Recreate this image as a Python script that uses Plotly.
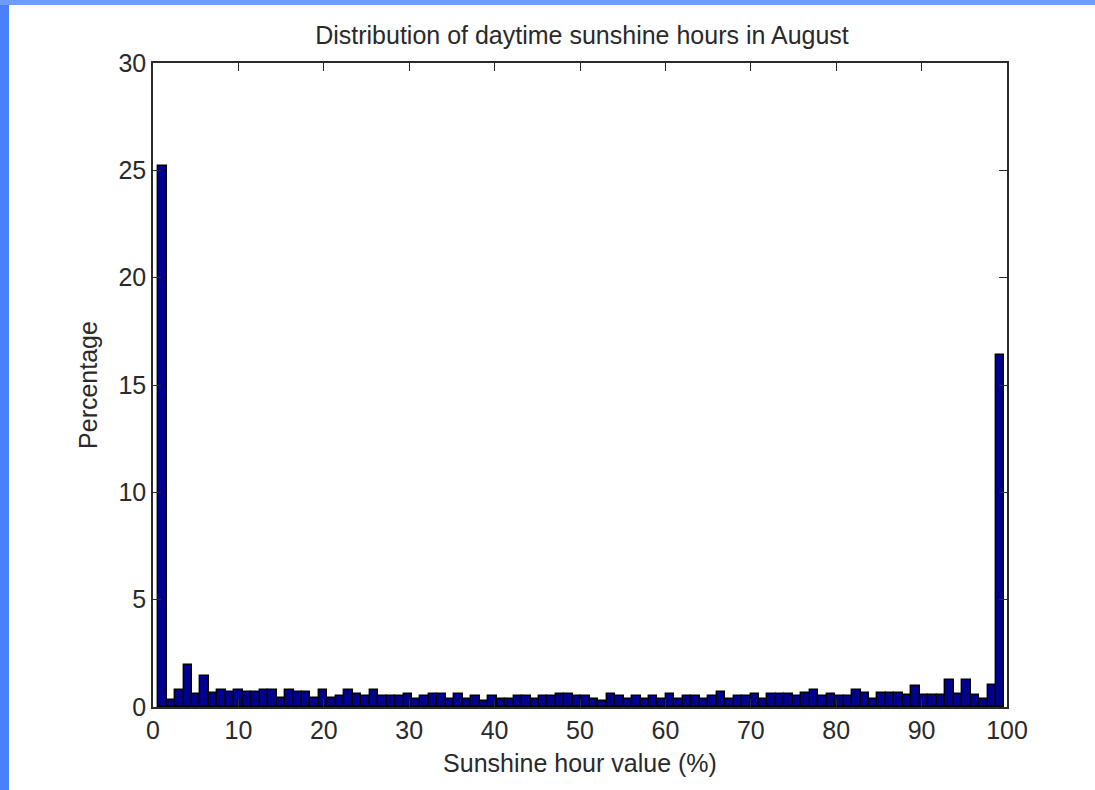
import numpy as np
import plotly.graph_objects as go

# Histogram of daytime sunshine hour value (%), August: 100 bins
bin_low = 0.6
bin_high = 99.7
n_bins = 100
percentages = [
    25.2, 0.33, 0.8, 1.95, 0.59, 1.43, 0.65, 0.8, 0.7, 0.8,
    0.7, 0.7, 0.8, 0.8, 0.4, 0.8, 0.68, 0.68, 0.4, 0.8,
    0.4, 0.5, 0.8, 0.6, 0.5, 0.81, 0.5, 0.5, 0.5, 0.62,
    0.39, 0.5, 0.62, 0.62, 0.39, 0.62, 0.39, 0.5, 0.28, 0.5,
    0.39, 0.39, 0.5, 0.5, 0.39, 0.5, 0.5, 0.62, 0.62, 0.5,
    0.5, 0.39, 0.3, 0.62, 0.5, 0.39, 0.5, 0.39, 0.5, 0.39,
    0.62, 0.39, 0.5, 0.5, 0.39, 0.5, 0.71, 0.39, 0.5, 0.5,
    0.62, 0.39, 0.62, 0.62, 0.62, 0.5, 0.65, 0.81, 0.5, 0.62,
    0.5, 0.5, 0.81, 0.65, 0.39, 0.65, 0.65, 0.65, 0.55, 0.96,
    0.55, 0.55, 0.55, 1.24, 0.6, 1.24, 0.55, 0.39, 1.02, 16.4,
]
x_ticks = [0, 10, 20, 30, 40, 50, 60, 70, 80, 90, 100]
y_ticks = [0, 5, 10, 15, 20, 25, 30]

edges = np.linspace(bin_low, bin_high, n_bins + 1)
centers = (edges[:-1] + edges[1:]) / 2
width = edges[1] - edges[0]

W, H = 1095, 790
L, R, T, B = 153, 88, 63, 83
pw = W - L - R
ph = H - T - B

fig = go.Figure()
fig.add_trace(go.Bar(
    x=centers, y=percentages, width=width,
    marker=dict(color="#00008f", line=dict(color="#000000", width=1.4)),
    hoverinfo="x+y",
))

font = "Liberation Sans, Arial, sans-serif"
fs = 25
tc = "#2a2a2a"

def px_x(p):
    return (p - L) / pw

def px_y(p):
    return (H - B - p) / ph

shapes = [
    dict(type="rect", xref="paper", yref="paper",
         x0=px_x(-2), x1=px_x(9), y0=px_y(H + 2), y1=px_y(-2),
         fillcolor="#4a80fb", line=dict(width=0), layer="above"),
    dict(type="rect", xref="paper", yref="paper",
         x0=px_x(-2), x1=px_x(W + 2), y0=px_y(5), y1=px_y(-2),
         fillcolor="#6c9cff", line=dict(width=0), layer="above"),
]

fig.update_layout(
    width=W, height=H,
    margin=dict(l=L, r=R, t=T, b=B, autoexpand=False),
    paper_bgcolor="white", plot_bgcolor="white",
    bargap=0, showlegend=False,
    font=dict(family=font, size=fs, color=tc),
    title=dict(text="Distribution of daytime sunshine hours in August",
               x=(L + pw / 2 + 2) / W, xanchor="center",
               y=1 - 35 / H, yanchor="middle",
               font=dict(family=font, size=fs, color=tc)),
    shapes=shapes,
)
fig.update_xaxes(
    range=[0, 100], tickvals=x_ticks, ticks="inside", ticklen=8,
    tickwidth=1.3, tickcolor=tc,
    showline=True, linecolor=tc, linewidth=1.6, mirror="ticks",
    showgrid=False, zeroline=False,
    tickfont=dict(family=font, size=fs, color=tc),
    title=dict(text="Sunshine hour value (%)", standoff=12,
               font=dict(family=font, size=fs, color=tc)),
)
fig.update_yaxes(
    range=[0, 30], tickvals=y_ticks, ticks="inside", ticklen=8,
    tickwidth=1.3, tickcolor=tc,
    showline=True, linecolor=tc, linewidth=1.6, mirror="ticks",
    showgrid=False, zeroline=False,
    tickfont=dict(family=font, size=fs, color=tc),
    title=dict(text="Percentage", standoff=14,
               font=dict(family=font, size=fs, color=tc)),
)

fig.write_html(
    "out.html",
    config={"displayModeBar": False},
    post_script="document.body.style.margin='0';document.body.style.padding='0';",
)
